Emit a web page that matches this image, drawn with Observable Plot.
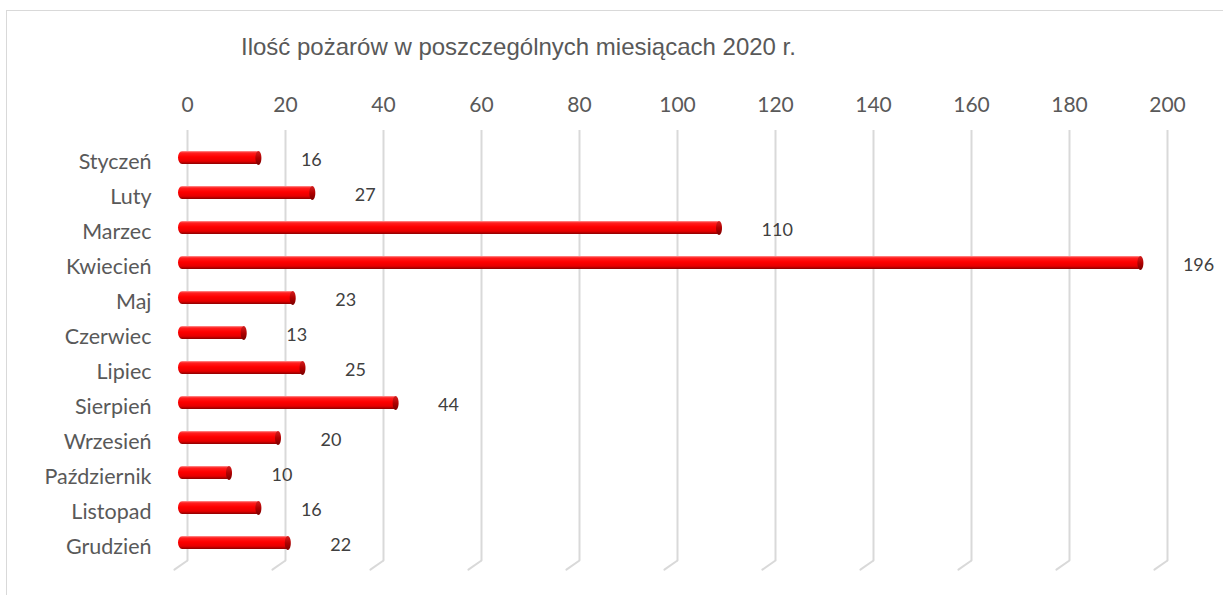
<!DOCTYPE html>
<html>
<head>
<meta charset="utf-8">
<script src="https://cdn.jsdelivr.net/npm/d3@7"></script>
<script src="https://cdn.jsdelivr.net/npm/@observablehq/plot@0.6"></script>
<style>
  html, body { margin: 0; padding: 0; background: #fff; }
  #wrap { position: relative; width: 1223px; height: 595px; overflow: hidden; background: #fff; }
  #border { position: absolute; left: 6px; top: 10px; width: 1400px; height: 800px; border: 1.5px solid #d9d9d9; box-sizing: border-box; }
  #title { position: relative; height: 75px; box-sizing: border-box; padding-top: 33px; padding-left: 241px;
           font-family: "Liberation Sans", Arial, sans-serif; font-size: 24px; line-height: 28px; color: #595959; white-space: nowrap; }
  #plot { position: relative; }
</style>
</head>
<body>
<div id="wrap">
  <div id="border"></div>
  <div id="title"></div>
  <div id="plot"></div>
</div>
<script>
const chartTitle = "Ilość pożarów w poszczególnych miesiącach 2020 r.";
const months = ["Styczeń","Luty","Marzec","Kwiecień","Maj","Czerwiec","Lipiec","Sierpień","Wrzesień","Październik","Listopad","Grudzień"];
const fires = [16, 27, 110, 196, 23, 13, 25, 44, 20, 10, 16, 22];
const xTicks = [0, 20, 40, 60, 80, 100, 120, 140, 160, 180, 200];

const data = months.map((m, i) => ({month: m, value: fires[i]}));

document.getElementById("title").textContent = chartTitle;

// gradient definitions for a cylinder-like look
const defsMark = () => {
  const defs = d3.create("svg:defs");
  const g = defs.append("linearGradient").attr("id", "cyl").attr("x1", 0).attr("y1", 0).attr("x2", 0).attr("y2", 1);
  [["0%", "#ff9a9a"], ["14%", "#ff2020"], ["45%", "#ff0000"], ["78%", "#e60000"], ["100%", "#8c0000"]]
    .forEach(([o, c]) => g.append("stop").attr("offset", o).attr("stop-color", c));
  const c = defs.append("linearGradient").attr("id", "cap").attr("x1", 0).attr("y1", 0).attr("x2", 0).attr("y2", 1);
  [["0%", "#d42020"], ["50%", "#b00000"], ["100%", "#7a0000"]]
    .forEach(([o, col]) => c.append("stop").attr("offset", o).attr("stop-color", col));
  return defs.node();
};

const ellipse = {
  draw(ctx) {
    const rx = 3, ry = 7, k = 0.5523;
    ctx.moveTo(rx, 0);
    ctx.bezierCurveTo(rx, ry * k, rx * k, ry, 0, ry);
    ctx.bezierCurveTo(-rx * k, ry, -rx, ry * k, -rx, 0);
    ctx.bezierCurveTo(-rx, -ry * k, -rx * k, -ry, 0, -ry);
    ctx.bezierCurveTo(rx * k, -ry, rx, -ry * k, rx, 0);
    ctx.closePath();
  }
};

const foot = {
  draw(ctx, l) { ctx.moveTo(0, 0); ctx.lineTo(0, -l); }
};

const chart = Plot.plot({
  width: 1223,
  height: 520,
  marginLeft: 187,
  marginRight: 56,
  marginTop: 60,
  marginBottom: 31,
  style: {fontFamily: "Lato, sans-serif", color: "#595959", background: "transparent"},
  x: {domain: [0, 200], axis: null},
  y: {domain: months, padding: 0, axis: null},
  marks: [
    defsMark,
    Plot.ruleX(xTicks, {x: d => d, stroke: "#d9d9d9", strokeWidth: 2, insetTop: -5, insetBottom: 4}),
    Plot.vector(xTicks, {x: d => d, frameAnchor: "bottom", dy: -4, rotate: 235, length: 16, anchor: "start",
                          shape: foot, stroke: "#d9d9d9", strokeWidth: 2}),
    Plot.axisX({anchor: "top", ticks: xTicks, tickSize: 0, tickPadding: 24, fontSize: 21, label: null, tickFormat: d => String(d)}),
    Plot.axisY({tickSize: 0, tickPadding: 36, fontSize: 21.5, dy: 4, label: null}),
    Plot.barX(data, {x: "value", y: "month", fill: "url(#cyl)", insetTop: 11, insetBottom: 11,
                     insetLeft: -4, dx: -5, rx: 4, ry: 7}),
    Plot.dot(data, {x: "value", y: "month", symbol: ellipse, r: 7, fill: "url(#cap)", dx: -7.5}),
    Plot.text(data, {x: "value", y: "month", text: d => String(d.value), textAnchor: "start",
                     dx: 35, dy: 2, fontSize: 18, fill: "#404040"})
  ]
});
document.getElementById("plot").appendChild(chart);
</script>
</body>
</html>
